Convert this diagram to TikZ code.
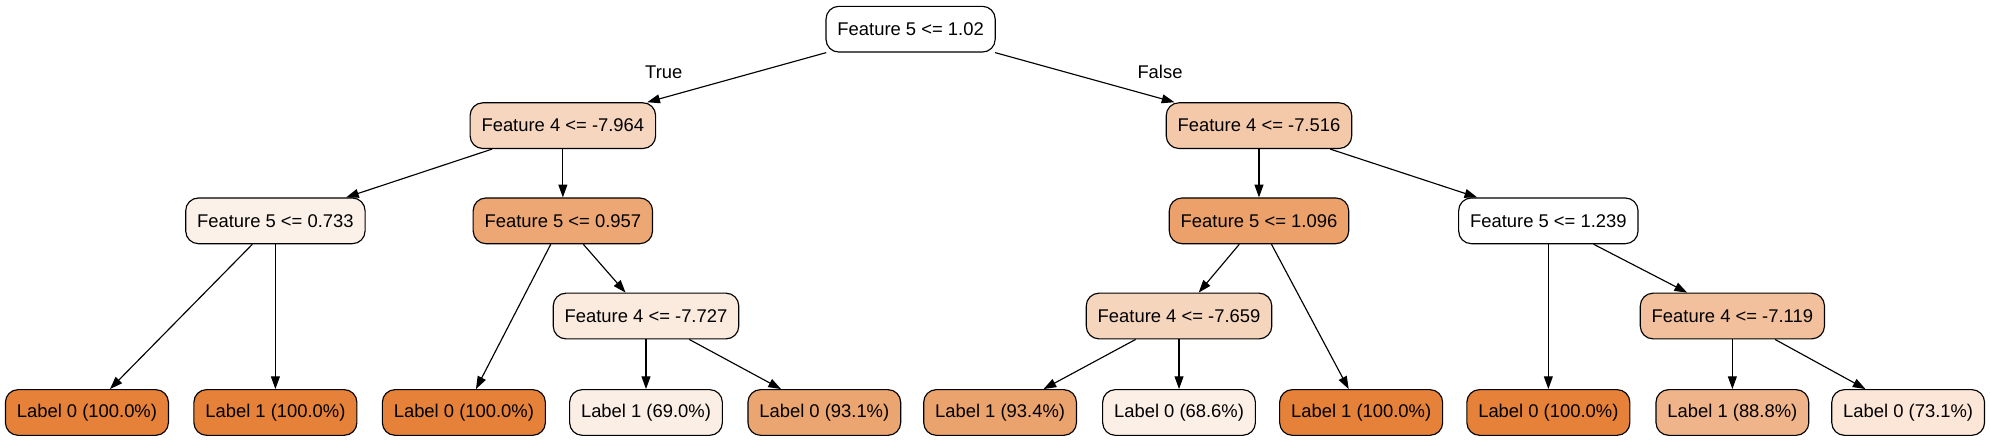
\documentclass[tikz,border=0pt]{standalone}
\usepackage{fontspec}
\setmainfont{Liberation Sans}
\usetikzlibrary{arrows.meta}
\definecolor{c100}{HTML}{E58139}
\definecolor{cA}{HTML}{F6D6BF}
\definecolor{cB}{HTML}{F4C9AA}
\definecolor{cC}{HTML}{FCF1E9}
\definecolor{cD}{HTML}{EDA774}
\definecolor{cE}{HTML}{ECA06A}
\definecolor{cF}{HTML}{FBEADE}
\definecolor{cG}{HTML}{F6D5BD}
\definecolor{cH}{HTML}{F2C09C}
\definecolor{cI}{HTML}{FBEEE4}
\definecolor{cJ}{HTML}{EBA571}
\definecolor{cK}{HTML}{EBA36E}
\definecolor{cL}{HTML}{FCEFE6}
\definecolor{cM}{HTML}{F0B48A}
\definecolor{cN}{HTML}{FCE6D7}
\begin{document}
\begin{tikzpicture}[x=1pt,y=-1pt,
  tnode/.style={draw=black,line width=0.9pt,rounded corners=10pt,minimum height=36pt,inner xsep=9pt,inner ysep=0pt,font=\fontsize{14.5}{17}\selectfont},
  edge/.style={line width=0.9pt,-{Triangle[length=10pt,width=7pt]}},
  elabel/.style={font=\fontsize{14.5}{17}\selectfont}]
\useasboundingbox (0,0) rectangle (1568,349);
\node[tnode,fill=white] (r) at (717.5,23) {Feature 5 <= 1.02};
\node[tnode,fill=cA] (a) at (443.5,99) {Feature 4 <= -7.964};
\node[tnode,fill=cB] (b) at (992,99) {Feature 4 <= -7.516};
\node[tnode,fill=cC] (aa) at (217,174) {Feature 5 <= 0.733};
\node[tnode,fill=cD] (ab) at (443.5,174) {Feature 5 <= 0.957};
\node[tnode,fill=cE] (ba) at (992,174) {Feature 5 <= 1.096};
\node[tnode,fill=white] (bb) at (1220,174) {Feature 5 <= 1.239};
\node[tnode,fill=cF] (aba) at (509,249) {Feature 4 <= -7.727};
\node[tnode,fill=cG] (baa) at (929,249) {Feature 4 <= -7.659};
\node[tnode,fill=cH] (bbb) at (1365,249) {Feature 4 <= -7.119};
\node[tnode,fill=c100] (l1) at (68.5,325) {Label 0 (100.0\%)};
\node[tnode,fill=c100] (l2) at (217,325) {Label 1 (100.0\%)};
\node[tnode,fill=c100] (l3) at (365.5,325) {Label 0 (100.0\%)};
\node[tnode,fill=cI] (l4) at (509,325) {Label 1 (69.0\%)};
\node[tnode,fill=cJ] (l5) at (649.5,325) {Label 0 (93.1\%)};
\node[tnode,fill=cK] (l6) at (788,325) {Label 1 (93.4\%)};
\node[tnode,fill=cL] (l7) at (929,325) {Label 0 (68.6\%)};
\node[tnode,fill=c100] (l8) at (1072.5,325) {Label 1 (100.0\%)};
\node[tnode,fill=c100] (l9) at (1220,325) {Label 0 (100.0\%)};
\node[tnode,fill=cM] (l10) at (1365,325) {Label 1 (88.8\%)};
\node[tnode,fill=cN] (l11) at (1503.5,325) {Label 0 (73.1\%)};
\draw[edge] (r) -- (a);
\draw[edge] (r) -- (b);
\node[elabel] (tl) at (523,57) {True};
\node[elabel] (fl) at (914,57) {False};
\draw[edge] (a) -- (aa);
\draw[edge] (a) -- (ab);
\draw[edge] (b) -- (ba);
\draw[edge] (b) -- (bb);
\draw[edge] (aa) -- (l1);
\draw[edge] (aa) -- (l2);
\draw[edge] (ab) -- (l3);
\draw[edge] (ab) -- (aba);
\draw[edge] (aba) -- (l4);
\draw[edge] (aba) -- (l5);
\draw[edge] (ba) -- (baa);
\draw[edge] (ba) -- (l8);
\draw[edge] (baa) -- (l6);
\draw[edge] (baa) -- (l7);
\draw[edge] (bb) -- (l9);
\draw[edge] (bb) -- (bbb);
\draw[edge] (bbb) -- (l10);
\draw[edge] (bbb) -- (l11);
\end{tikzpicture}
\end{document}
